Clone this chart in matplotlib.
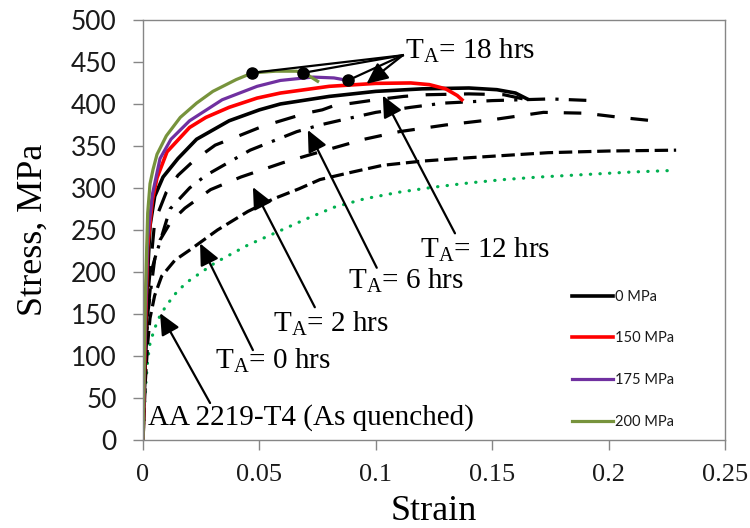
import numpy as np
import matplotlib
matplotlib.use("Agg")
import matplotlib.pyplot as plt

plt.rcParams['mathtext.fontset'] = 'custom'
plt.rcParams['mathtext.rm'] = 'Liberation Serif'

# AA 2219-T4 as quenched (green dotted)
t4_strain = [0, 0.001, 0.002, 0.003, 0.005, 0.0073, 0.01, 0.015, 0.02, 0.031, 0.045, 0.058,
             0.07, 0.082, 0.095, 0.11, 0.125, 0.14, 0.155, 0.17, 0.19, 0.21, 0.229]
t4_stress = [0, 60, 95, 115, 133, 148, 160, 178, 190, 211, 232, 248,
             263, 277, 287, 295, 301, 306, 310, 313, 316, 319, 321]

# T_A = 0 hrs (short dash)
ta0_strain = [0, 0.001, 0.002, 0.003, 0.005, 0.008, 0.0137, 0.02, 0.025, 0.032, 0.045, 0.056,
              0.067, 0.076, 0.09, 0.103, 0.12, 0.14, 0.157, 0.174, 0.2, 0.229]
ta0_stress = [0, 70, 115, 145, 172, 195, 214, 226, 236, 250, 272, 287,
              299, 310, 319, 327, 332, 336, 339, 342, 344, 345]

# T_A = 2 hrs (long dash)
ta2_strain = [0, 0.001, 0.002, 0.004, 0.0073, 0.012, 0.018, 0.029, 0.042, 0.06, 0.076, 0.095,
              0.11, 0.13, 0.152, 0.172, 0.19, 0.205, 0.219]
ta2_stress = [0, 90, 150, 205, 238, 260, 276, 298, 313, 330, 343, 358,
              367, 375, 382, 390, 389, 384, 380]

# T_A = 6 hrs (dash dot)
ta6_strain = [0, 0.001, 0.002, 0.005, 0.0116, 0.02, 0.027, 0.046, 0.066, 0.076, 0.087, 0.1,
              0.115, 0.129, 0.15, 0.175, 0.193]
ta6_stress = [0, 90, 150, 215, 275, 300, 315, 345, 367, 375, 382, 390,
              396, 401, 404, 406, 404]

# T_A = 12 hrs (long dash)
ta12_strain = [0, 0.001, 0.002, 0.005, 0.01, 0.015, 0.022, 0.031, 0.042, 0.051, 0.058, 0.07,
               0.077, 0.082, 0.09, 0.1, 0.112, 0.122, 0.14, 0.155, 0.165]
ta12_stress = [0, 100, 170, 260, 295, 315, 333, 351, 363, 373, 379, 389,
               393, 398, 401, 405, 409, 411, 412, 411, 405]

# T_A = 18 hrs, four stress levels
s0_strain = [0, 0.001, 0.002, 0.003, 0.005, 0.0086, 0.015, 0.023, 0.037, 0.05, 0.059, 0.08,
             0.1, 0.12, 0.14, 0.152, 0.16, 0.165]
s0_stress = [0, 120, 200, 255, 290, 313, 335, 358, 380, 393, 400, 409,
             415, 418, 419, 417, 413, 406]

s150_strain = [0, 0.001, 0.002, 0.004, 0.006, 0.0103, 0.02, 0.027, 0.037, 0.049, 0.059, 0.08,
               0.1, 0.115, 0.123, 0.13, 0.135, 0.137]
s150_stress = [0, 130, 230, 285, 312, 343, 372, 384, 396, 407, 413, 421,
               424.5, 425, 423, 418, 410, 405]

s175_strain = [0, 0.001, 0.002, 0.004, 0.0073, 0.012, 0.02, 0.034, 0.049, 0.059, 0.073, 0.082, 0.088]
s175_stress = [0, 140, 240, 292, 335, 358, 380, 405, 421, 428, 432, 431, 428]

s200_strain = [0, 0.001, 0.002, 0.003, 0.0043, 0.006, 0.01, 0.016, 0.023, 0.03, 0.04, 0.047,
               0.057, 0.066, 0.071, 0.075]
s200_stress = [0, 170, 270, 305, 322, 340, 362, 384, 401, 415, 429, 437,
               439, 439, 434, 427]

legend_labels = ["0 MPa", "150 MPa", "175 MPa", "200 MPa"]

fig = plt.figure(figsize=(7.5, 5.28), dpi=100)
ax = fig.add_axes([0.1907, 0.1667, 0.7760, 0.7955])

lw = 2.3
ax.plot(t4_strain, t4_stress, color='#00B050', lw=lw, linestyle=(0, (0.1, 2.9)),
        dash_capstyle='round')
ax.plot(ta0_strain, ta0_stress, color='black', lw=lw, linestyle=(0, (4.2, 1.8)))
ax.plot(ta2_strain, ta2_stress, color='black', lw=lw, linestyle=(0, (5.5, 5.0)))
ax.plot(ta6_strain, ta6_stress, color='black', lw=lw, linestyle=(0, (5.5, 3.2, 1.0, 3.2)))
ax.plot(ta12_strain, ta12_stress, color='black', lw=lw, linestyle=(0, (6.5, 5.5)))
h0, = ax.plot(s0_strain, s0_stress, color='black', lw=2.6)
h150, = ax.plot(s150_strain, s150_stress, color='#FF0000', lw=2.6)
h175, = ax.plot(s175_strain, s175_stress, color='#7030A0', lw=2.3)
h200, = ax.plot(s200_strain, s200_stress, color='#77933C', lw=2.3)

ax.set_xlim(0, 0.25)
ax.set_ylim(0, 500)
ax.set_xticks([0, 0.05, 0.1, 0.15, 0.2, 0.25])
ax.set_xticklabels(["0", "0.05", "0.1", "0.15", "0.2", "0.25"])
ax.set_yticks(np.arange(0, 501, 50))

for sp in ax.spines.values():
    sp.set_color('#868686')
    sp.set_linewidth(1.0)
ax.tick_params(axis='both', direction='out', length=7, width=1.0, color='#868686')
ax.tick_params(axis='y', pad=12)
ax.tick_params(axis='x', pad=10)
for lab in ax.get_yticklabels():
    lab.set_fontfamily('Lato')
    lab.set_fontsize(19)
    lab.set_color('#1a1a1a')
for lab in ax.get_xticklabels():
    lab.set_fontfamily('Liberation Serif')
    lab.set_fontsize(19)
    lab.set_color('#1a1a1a')

ax.set_xlabel("Strain", family='Liberation Serif', fontsize=26, labelpad=7)
ax.set_ylabel("Stress, MPa", family='Liberation Serif', fontsize=26, labelpad=15)

# annotations
arrow = dict(arrowstyle='-|>,head_length=0.65,head_width=0.3', color='black', lw=1.6,
             mutation_scale=20, shrinkA=0, shrinkB=0)
tfont = dict(family='Liberation Serif', fontsize=21, ha='left', va='baseline')

ax.annotate('', xy=(0.0073, 151), xytext=(0.0288, 44), arrowprops=arrow)
ax.text(0.0021, 18, "AA 2219-T4 (As quenched)", **tfont)

ax.annotate('', xy=(0.0245, 234), xytext=(0.0472, 107), arrowprops=arrow)
ax.text(0.031, 86, r"T$_\mathrm{A}$= 0 hrs", **tfont)

ax.annotate('', xy=(0.0472, 301), xytext=(0.0738, 158), arrowprops=arrow)
ax.text(0.0558, 129, r"T$_\mathrm{A}$= 2 hrs", **tfont)

ax.annotate('', xy=(0.0708, 369), xytext=(0.1004, 205), arrowprops=arrow)
ax.text(0.088, 181, r"T$_\mathrm{A}$= 6 hrs", **tfont)

ax.annotate('', xy=(0.103, 410), xytext=(0.134, 246), arrowprops=arrow)
ax.text(0.119, 217, r"T$_\mathrm{A}$= 12 hrs", **tfont)

apex = (0.1116, 458)
for dot in [(0.0468, 437), (0.0687, 437), (0.088, 428)]:
    ax.plot([apex[0], dot[0]], [apex[1], dot[1]], color='black', lw=1.6,
            marker='o', markersize=8, markevery=[1])
ax.annotate('', xy=(0.096, 424), xytext=apex, arrowprops=arrow)
ax.text(0.1125, 455, r"T$_\mathrm{A}$= 18 hrs", **tfont)

leg = ax.legend([h0, h150, h175, h200], legend_labels, loc='upper left',
                bbox_to_anchor=(0.725, 0.375), frameon=False, borderpad=0,
                prop={'family': 'Lato', 'size': 10.5}, labelspacing=1.9,
                handlelength=2.8, handletextpad=0.15)
for t in leg.get_texts():
    t.set_color('#1a1a1a')

fig.savefig("out.png", dpi=100)
